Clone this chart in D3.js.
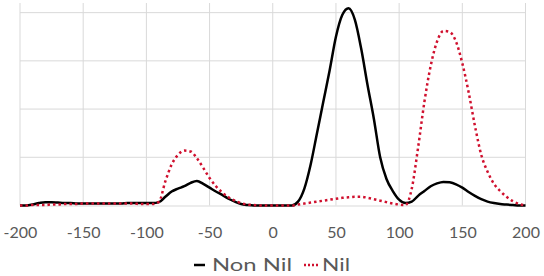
<!DOCTYPE html>
<html>
<head>
<meta charset="utf-8">
<script src="https://cdn.jsdelivr.net/npm/d3@7"></script>
<style>
  html, body { margin: 0; padding: 0; background: #fff; }
  svg { display: block; }
  text { font-family: Lato, "Open Sans", sans-serif; fill: #595959; }
</style>
</head>
<body>
<svg id="chart" width="544" height="276"></svg>
<script>
const xValues = d3.range(-200, 201, 5);
const nonNil = [
  0, 0, 0.02, 0.05, 0.07, 0.07, 0.06, 0.05, 0.05, 0.04,
  0.04, 0.04, 0.04, 0.04, 0.04, 0.04, 0.04, 0.05, 0.05, 0.05,
  0.05, 0.05, 0.07, 0.18, 0.29, 0.35, 0.40, 0.47, 0.51, 0.45,
  0.37, 0.29, 0.22, 0.14, 0.08, 0.03, 0.01, 0, 0, 0,
  0, 0, 0, 0, 0.08, 0.35, 0.85, 1.5, 2.15, 2.8,
  3.5, 3.95, 4.09, 3.85, 3.25, 2.5, 1.8, 1.0, 0.55, 0.3,
  0.12, 0.05, 0.08, 0.2, 0.3, 0.4, 0.46, 0.49, 0.48, 0.44,
  0.37, 0.28, 0.2, 0.13, 0.08, 0.05, 0.03, 0.02, 0.01, 0, 0
];
const nil = [
  0, 0, 0.01, 0.01, 0.01, 0.02, 0.02, 0.03, 0.03, 0.03,
  0.04, 0.04, 0.04, 0.04, 0.04, 0.04, 0.04, 0.04, 0.04, 0.03,
  0.03, 0.03, 0.08, 0.5, 0.85, 1.05, 1.14, 1.12, 0.98, 0.78,
  0.57, 0.4, 0.27, 0.17, 0.1, 0.05, 0.02, 0.01, 0, 0,
  0, 0, 0, 0, 0.02, 0.04, 0.06, 0.08, 0.1, 0.12,
  0.14, 0.16, 0.17, 0.18, 0.18, 0.16, 0.13, 0.1, 0.07, 0.04,
  0.02, 0.01, 0.35, 1.2, 2.15, 2.9, 3.4, 3.62, 3.6, 3.4,
  2.95, 2.35, 1.65, 1.05, 0.7, 0.45, 0.3, 0.18, 0.09, 0.03, 0
];
const xTicks = [-200, -150, -100, -50, 0, 50, 100, 150, 200];
const yGrid = [1, 2, 3, 4];
const seriesNames = ["Non Nil", "Nil"];

const svg = d3.select("#chart");
const plotLeft = 20, plotRight = 525.5, plotTop = 3, plotBottom = 205.5;

const x = d3.scaleLinear().domain([-200, 200]).range([plotLeft, plotRight]);
const y = d3.scaleLinear().domain([0, 4.2]).range([plotBottom, plotTop]);

// vertical gridlines
svg.append("g").selectAll("line").data(xTicks).join("line")
  .attr("x1", d => x(d)).attr("x2", d => x(d))
  .attr("y1", plotTop).attr("y2", plotBottom)
  .attr("stroke", "#d9d9d9").attr("stroke-width", 1);
// horizontal gridlines
svg.append("g").selectAll("line").data(yGrid).join("line")
  .attr("x1", plotLeft).attr("x2", plotRight)
  .attr("y1", d => y(d)).attr("y2", d => y(d))
  .attr("stroke", "#d9d9d9").attr("stroke-width", 1);

// x axis
const xAxis = d3.axisBottom(x).tickValues(xTicks).tickSize(0).tickPadding(0)
  .tickFormat(d => d < 0 ? "-" + Math.abs(d) : String(d));
const gx = svg.append("g").attr("transform", `translate(0,${plotBottom})`).call(xAxis);
gx.select(".domain").attr("stroke", "#d9d9d9");
gx.selectAll("text").attr("font-size", 16).attr("dy", null)
  .attr("y", 32).attr("fill", "#595959")
  .style("font-family", "Lato, sans-serif");

const line = d3.line().x((d, i) => x(xValues[i])).y(d => y(d)).curve(d3.curveMonotoneX);

svg.append("path").datum(nonNil).attr("d", line)
  .attr("fill", "none").attr("stroke", "#000").attr("stroke-width", 2.5)
  .attr("stroke-linejoin", "round");
svg.append("path").datum(nil).attr("d", line)
  .attr("fill", "none").attr("stroke", "#d0102e").attr("stroke-width", 2.5)
  .attr("stroke-dasharray", "2.5 3");

// legend
const lg = svg.append("g");
lg.append("line").attr("x1", 194).attr("x2", 205).attr("y1", 265).attr("y2", 265)
  .attr("stroke", "#000").attr("stroke-width", 2.5);
lg.append("text").attr("x", 212).attr("y", 271).attr("font-size", 17)
  .attr("textLength", 80).attr("lengthAdjust", "spacingAndGlyphs").text(seriesNames[0]);
lg.append("line").attr("x1", 304).attr("x2", 320).attr("y1", 265).attr("y2", 265)
  .attr("stroke", "#d0102e").attr("stroke-width", 2.5).attr("stroke-dasharray", "2 2");
lg.append("text").attr("x", 322).attr("y", 271).attr("font-size", 17)
  .attr("textLength", 28).attr("lengthAdjust", "spacingAndGlyphs").text(seriesNames[1]);
</script>
</body>
</html>
